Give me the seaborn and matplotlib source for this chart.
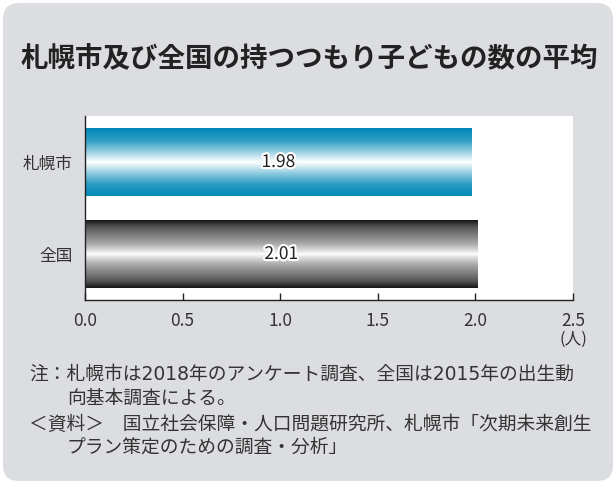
import numpy as np
import matplotlib
matplotlib.use("Agg")
import matplotlib.pyplot as plt
import matplotlib.patheffects as pe
from matplotlib.patches import FancyBboxPatch
from matplotlib.colors import to_rgb
import seaborn as sns

# ---- data ----
categories = ["札幌市", "全国"]
values = [1.98, 2.01]
x_ticks = [0.0, 0.5, 1.0, 1.5, 2.0, 2.5]
x_tick_labels = ["0.0", "0.5", "1.0", "1.5", "2.0", "2.5"]
unit_label = "(人)"
title = "札幌市及び全国の持つつもり子どもの数の平均"
notes = [
    "注：札幌市は2018年のアンケート調査、全国は2015年の出生動",
    "向基本調査による。",
    "＜資料＞　国立社会保障・人口問題研究所、札幌市「次期未来創生",
    "プラン策定のための調査・分析」",
]

# ---- style ----
sns.set_theme(style="white")
plt.rcParams["font.family"] = ["Noto Sans CJK JP", "DejaVu Sans"]

W, H, DPI = 616, 484, 100
fig = plt.figure(figsize=(W / DPI, H / DPI), dpi=DPI, facecolor="white")

# rounded grey card behind everything
card = FancyBboxPatch((0.03, 0.03), W / DPI - 0.06, H / DPI - 0.06,
                      boxstyle="round,pad=0,rounding_size=0.16",
                      transform=fig.dpi_scale_trans, facecolor="#dcdde0",
                      edgecolor="none", zorder=-10)
fig.patches.append(card)

ax = fig.add_axes([85 / W, 1 - 300 / H, (573 - 85) / W, (300 - 116) / H])
ax.set_zorder(1)
ax.set_facecolor("white")

sns.barplot(x=values, y=categories, orient="h", width=0.73, ax=ax,
            color="#0088b8", edgecolor="none")


def cylinder_gradient(edge, stops, mix, n=256):
    """Vertical profile: edge colour at top/bottom, white streak in middle."""
    edge = np.array(to_rgb(edge))
    u = np.linspace(0, 1, n)
    d = 0.5 - np.abs(u - 0.5)
    t = np.interp(d, stops, mix)
    cols = edge[None, :] * (1 - t[:, None]) + t[:, None]
    return cols[:, None, :]


bar_styles = [
    ("#0088b8", [0.0, 0.18, 0.33, 0.44, 0.5], [0.0, 0.18, 0.55, 0.85, 1.0]),
    ("#161616", [0.0, 0.1, 0.25, 0.35, 0.45, 0.5],
     [0.0, 0.27, 0.49, 0.64, 0.86, 1.0]),
]
xlim, ylim = (0, 2.5), (1.5, -0.5)
for patch, (ec, stops, mix) in zip(ax.patches, bar_styles):
    x0, y0 = patch.get_x(), patch.get_y()
    w, h = patch.get_width(), patch.get_height()
    patch.set_facecolor("none")
    img = ax.imshow(cylinder_gradient(ec, stops, mix),
                    extent=[x0, x0 + w, y0 + h, y0],
                    aspect="auto", interpolation="bilinear", zorder=2)
    img.set_clip_path(patch)

ax.set_xlim(*xlim)
ax.set_ylim(*ylim)

# value labels centred on the bars
for i, v in enumerate(values):
    ax.text(v / 2, i, f"{v:.2f}", ha="center", va="center", fontsize=12.5,
            color="#222222", zorder=3,
            path_effects=[pe.withStroke(linewidth=3, foreground="white")])

ax.set_xticks(x_ticks)
ax.set_xticklabels(x_tick_labels)
ax.tick_params(axis="x", direction="in", length=5, width=1, color="#222222",
               labelsize=12.5, labelcolor="#333333", pad=9, bottom=True)
ax.tick_params(axis="y", length=0, labelsize=12, labelcolor="#333333", pad=9)
ax.set_xlabel("")
ax.set_ylabel("")
for side in ("top", "right"):
    ax.spines[side].set_visible(False)
for side in ("left", "bottom"):
    ax.spines[side].set_visible(True)
    ax.spines[side].set_color("#222222")
    ax.spines[side].set_linewidth(1.0)

ax.annotate(unit_label, xy=(2.5, 0), xycoords=("data", "axes fraction"),
            xytext=(0, -39), textcoords="offset pixels", ha="center",
            va="center", fontsize=12, color="#333333", annotation_clip=False)

fig.text(21 / W, 1 - 59 / H, title, fontsize=19.8, fontweight="bold",
         color="#222222", va="center", ha="left")

note_x = [29, 67, 29, 67]
note_y = [374, 398, 424, 447]
for txt, nx, ny in zip(notes, note_x, note_y):
    fig.text(nx / W, 1 - ny / H, txt, fontsize=13.5, color="#333333",
             va="center", ha="left", family=["DejaVu Sans", "Noto Sans CJK JP"])

fig.savefig("out.png", dpi=DPI, facecolor="white")
